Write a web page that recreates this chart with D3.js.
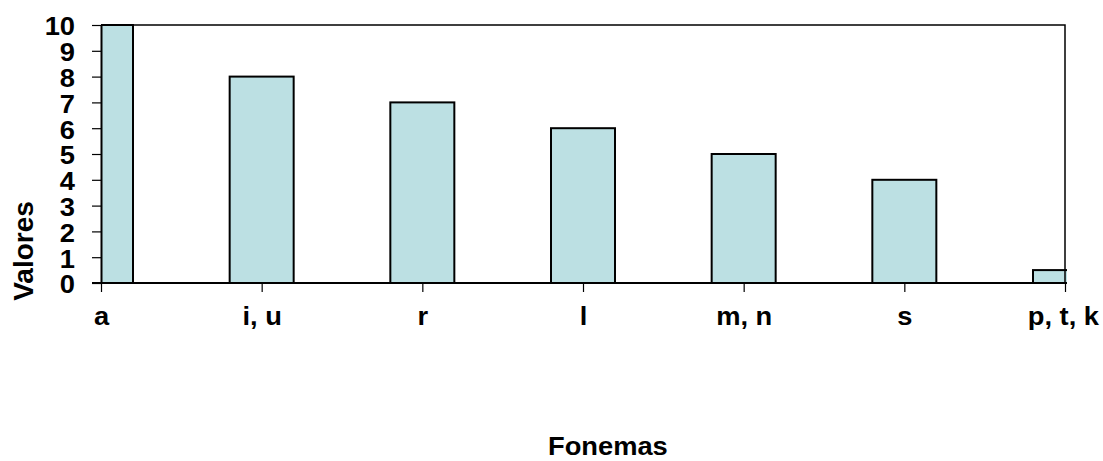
<!DOCTYPE html>
<html><head><meta charset="utf-8">
<script src="https://cdn.jsdelivr.net/npm/d3@7"></script>
<style>body{margin:0;background:#fff}svg{display:block}text{font-family:"Liberation Sans",Arial,sans-serif;font-weight:bold;fill:#000}</style>
</head><body><svg id="c" width="1103" height="461"></svg>
<script>
const categories = ["a", "i, u", "r", "l", "m, n", "s", "p, t, k"];
const values = [10, 8, 7, 6, 5, 4, 0.5];
const yTicks = [0,1,2,3,4,5,6,7,8,9,10];
const xTitle = "Fonemas";
const yTitle = "Valores";

const svg = d3.select("#c");
const L = 101, R = 1065, T = 25, B = 283;
const x = d3.scalePoint().domain(categories).range([L, R]);
const y = d3.scaleLinear().domain([0, 10]).range([B, T]);
const bw = 64;
const SX = 1.05, FS = "26px";

svg.append("defs").append("clipPath").attr("id","clip")
  .append("rect").attr("x", L).attr("y", T-2).attr("width", R - L + 2).attr("height", B - T + 4);

svg.append("g").attr("clip-path","url(#clip)")
  .selectAll("rect").data(values).join("rect")
  .attr("x", (d,i) => x(categories[i]) - bw/2)
  .attr("y", d => y(d))
  .attr("width", bw)
  .attr("height", d => B - y(d))
  .attr("fill", "#bce0e3")
  .attr("stroke", "#000")
  .attr("stroke-width", 2);

svg.append("path").attr("d", `M${L},${T}H${R}V${B}`).attr("fill","none").attr("stroke","#000").attr("stroke-width",1.5);

// y axis
const ya = svg.append("g").attr("transform", `translate(${L},0)`)
  .call(d3.axisLeft(y).tickValues(yTicks).tickSize(9).tickSizeOuter(0).tickPadding(17));
ya.select(".domain").attr("stroke","#000").attr("stroke-width",2);
ya.selectAll(".tick line").attr("stroke","#000").attr("stroke-width",1.2);
ya.selectAll(".tick text").style("font-size",FS).attr("x",0).attr("dy","0.38em")
  .attr("transform", `translate(-26,0) scale(${SX},1)`);

// x axis
const xa = svg.append("g").attr("transform", `translate(0,${B})`)
  .call(d3.axisBottom(x).tickSize(9).tickSizeOuter(0).tickPadding(0));
xa.select(".domain").attr("stroke","#000").attr("stroke-width",2).attr("d", `M${L-9},0H${R}`);
xa.selectAll(".tick line").attr("stroke","#000").attr("stroke-width",1.2);
xa.selectAll(".tick text").style("font-size",FS).attr("x",0).attr("y",0).attr("dy",0)
  .attr("transform", function(){
    const w = this.getComputedTextLength() * SX;
    const cx = +d3.select(this.parentNode).attr("transform").match(/translate\(([-\d.]+)/)[1];
    let shift = 0;
    if (cx + w/2 > 1099) shift = 1099 - (cx + w/2);
    return `translate(${shift},41.5) scale(${SX},1)`;
  });

svg.append("text").attr("transform","translate(548,455) scale(" + SX + ",1)").style("font-size",FS).text(xTitle);
svg.append("text").attr("transform","translate(33,251) rotate(-90)").attr("text-anchor","middle").style("font-size","28px").text(yTitle);
</script></body></html>
